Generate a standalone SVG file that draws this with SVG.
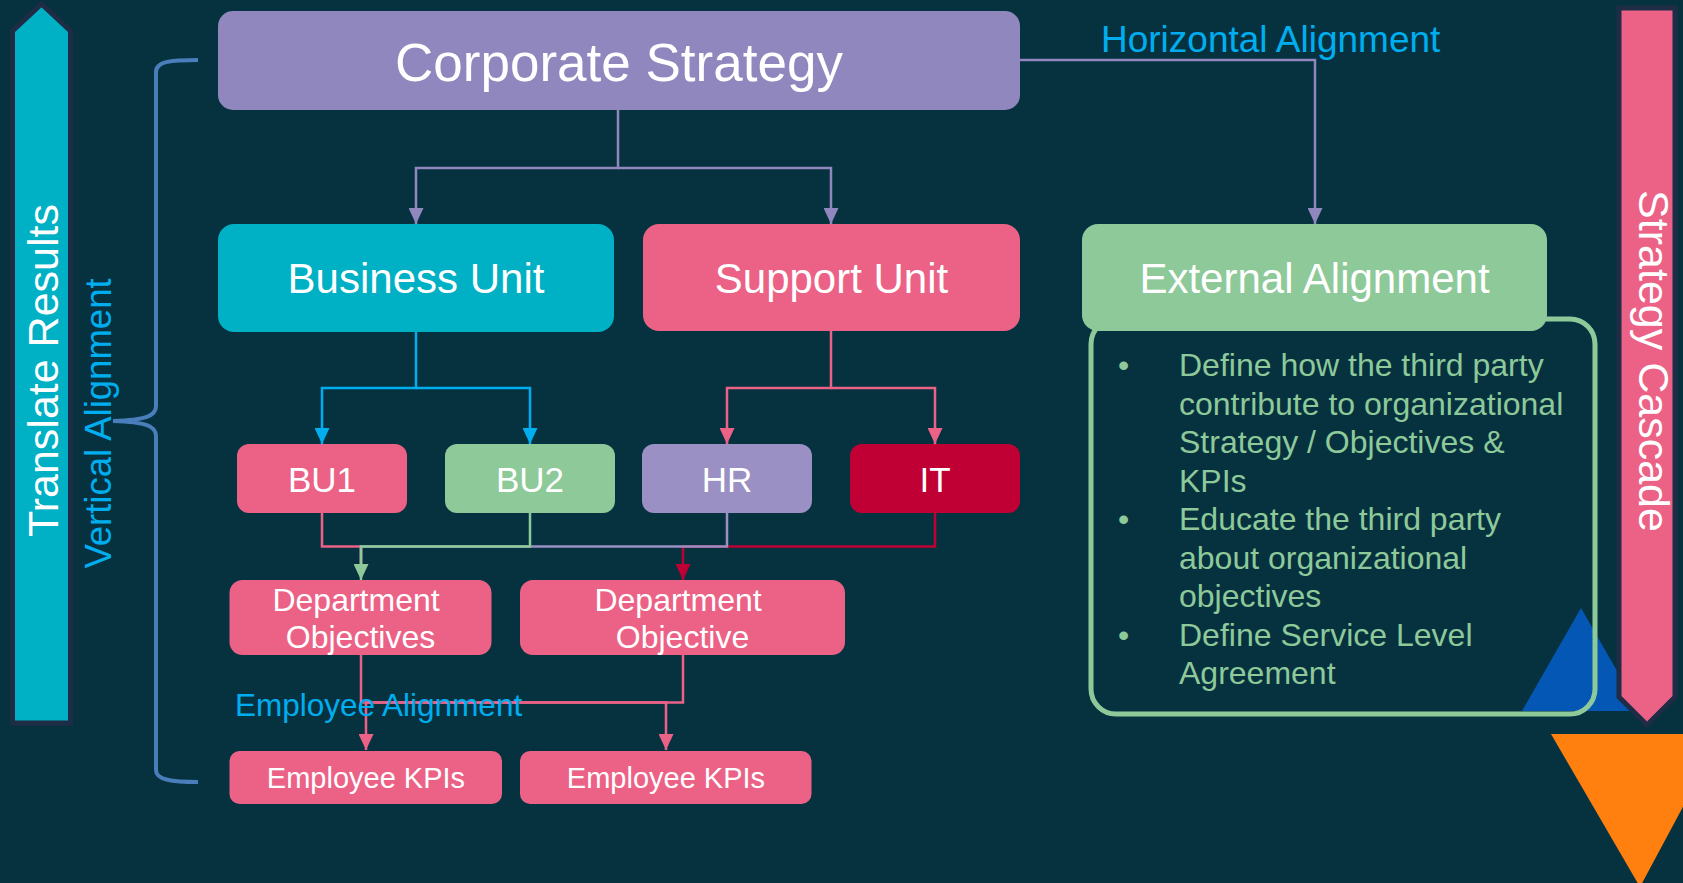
<svg xmlns="http://www.w3.org/2000/svg" width="1683" height="883" viewBox="0 0 1683 883">
  <style>
    text { font-family: "Liberation Sans", Arial, sans-serif; }
    .label { fill: #ffffff; text-anchor: middle; }
    .note { fill: #00AEEF; }
    .bullets { fill: #8EC999; font-size: 32px; }
    .conn { fill: none; stroke-width: 2.5; }
    .band { stroke: #1E2C46; stroke-width: 5; stroke-linejoin: miter; }
  </style>
  <defs>
    <marker id="ah-purple" viewBox="0 0 16 15" refX="16" refY="7.5" markerWidth="16" markerHeight="15" markerUnits="userSpaceOnUse" orient="auto">
      <path d="M0,0 L16,7.5 L0,15 z" fill="#8F87BD"/>
    </marker>
    <marker id="ah-blue" viewBox="0 0 16 15" refX="16" refY="7.5" markerWidth="16" markerHeight="15" markerUnits="userSpaceOnUse" orient="auto">
      <path d="M0,0 L16,7.5 L0,15 z" fill="#00AEEF"/>
    </marker>
    <marker id="ah-pink" viewBox="0 0 16 15" refX="16" refY="7.5" markerWidth="16" markerHeight="15" markerUnits="userSpaceOnUse" orient="auto">
      <path d="M0,0 L16,7.5 L0,15 z" fill="#EC6286"/>
    </marker>
    <marker id="ah-green" viewBox="0 0 16 15" refX="16" refY="7.5" markerWidth="16" markerHeight="15" markerUnits="userSpaceOnUse" orient="auto">
      <path d="M0,0 L16,7.5 L0,15 z" fill="#8EC999"/>
    </marker>
    <marker id="ah-crimson" viewBox="0 0 16 15" refX="16" refY="7.5" markerWidth="16" markerHeight="15" markerUnits="userSpaceOnUse" orient="auto">
      <path d="M0,0 L16,7.5 L0,15 z" fill="#C00034"/>
    </marker>
  </defs>

  <!-- backdrop -->
  <rect x="0" y="0" width="1683" height="883" fill="#063240"/>

  <!-- left band: results travel upward -->
  <g id="translate-results">
    <polygon class="band" points="41.5,4 70.5,31 70.5,723 12.5,723 12.5,31" fill="#00B0C4"/>
    <text class="label" font-size="43" transform="translate(57.5,370.5) rotate(-90)">Translate Results</text>
  </g>

  <!-- vertical alignment brace -->
  <g id="vertical-alignment">
    <path d="M198,60 C172,60 156,61 156,72 L156,406 C156,416 146,420 113,421 C146,422 156,426 156,436 L156,770 C156,780 172,782 198,782" fill="none" stroke="#4A7EBB" stroke-width="4"/>
    <text class="note" font-size="36.5" text-anchor="middle" transform="translate(111,423.5) rotate(-90)">Vertical Alignment</text>
  </g>

  <!-- accent shapes on the right edge -->
  <polygon id="accent-blue" points="1581,608 1522,711 1640,711" fill="#0557B5"/>

  <!-- external alignment detail panel -->
  <g id="external-detail">
    <rect x="1091" y="319" width="504" height="395" rx="25" fill="none" stroke="#8EC999" stroke-width="5"/>
    <text class="bullets">
      <tspan x="1118" y="376">•</tspan>
      <tspan x="1179" y="376">Define how the third party</tspan>
      <tspan x="1179" y="414.5">contribute to organizational</tspan>
      <tspan x="1179" y="453">Strategy / Objectives &amp;</tspan>
      <tspan x="1179" y="491.5">KPIs</tspan>
      <tspan x="1118" y="530">•</tspan>
      <tspan x="1179" y="530">Educate the third party</tspan>
      <tspan x="1179" y="568.5">about organizational</tspan>
      <tspan x="1179" y="607">objectives</tspan>
      <tspan x="1118" y="645.5">•</tspan>
      <tspan x="1179" y="645.5">Define Service Level</tspan>
      <tspan x="1179" y="684">Agreement</tspan>
    </text>
  </g>

  <!-- right band: strategy flows downward -->
  <g id="strategy-cascade">
    <polygon class="band" points="1619,8 1675,8 1675,697 1647,725 1619,697" fill="#EC6286"/>
    <text class="label" font-size="43" transform="translate(1639,361) rotate(90)">Strategy Cascade</text>
  </g>

  <polygon id="accent-orange" points="1551,734 1722,734 1640,887" fill="#FF7F0F"/>

  <!-- connectors -->
  <g id="connectors">
    <path class="conn" stroke="#8F87BD" d="M618,110 V168 H416 V224" marker-end="url(#ah-purple)"/>
    <path class="conn" stroke="#8F87BD" d="M618,168 H831 V224" marker-end="url(#ah-purple)"/>
    <path class="conn" stroke="#8F87BD" d="M1020,60 H1315 V224" marker-end="url(#ah-purple)"/>

    <path class="conn" stroke="#00AEEF" d="M416,332 V388 H322 V444" marker-end="url(#ah-blue)"/>
    <path class="conn" stroke="#00AEEF" d="M416,388 H530 V444" marker-end="url(#ah-blue)"/>

    <path class="conn" stroke="#EC6286" d="M831,331 V388 H727 V444" marker-end="url(#ah-pink)"/>
    <path class="conn" stroke="#EC6286" d="M831,388 H935 V444" marker-end="url(#ah-pink)"/>

    <path class="conn" stroke="#EC6286" d="M322,513 V546.5 H361 V570"/>
    <path class="conn" stroke="#C00034" d="M935,513 V546.5 H683 V580" marker-end="url(#ah-crimson)"/>
    <path class="conn" stroke="#9A90C3" d="M727,513 V546.5 H361 V570"/>
    <path class="conn" stroke="#8EC999" d="M530,513 V546.5 H361 V580" marker-end="url(#ah-green)"/>

    <path class="conn" stroke="#EC6286" d="M361,655 V702.5 H666 V750" marker-end="url(#ah-pink)"/>
    <path class="conn" stroke="#EC6286" d="M683,655 V702.5 H366 V750" marker-end="url(#ah-pink)"/>
  </g>

  <text id="horizontal-alignment" class="note" x="1101" y="52" font-size="37">Horizontal Alignment</text>
  <text id="employee-alignment" class="note" x="235" y="716" font-size="31.5">Employee Alignment</text>

  <!-- nodes -->
  <g id="corporate-strategy">
    <rect x="218" y="11" width="802" height="99" rx="15" fill="#8F87BD"/>
    <text class="label" x="619" y="81" font-size="53">Corporate Strategy</text>
  </g>
  <g id="business-unit">
    <rect x="218" y="224" width="396" height="108" rx="16" fill="#00B0C4"/>
    <text class="label" x="416" y="293" font-size="42">Business Unit</text>
  </g>
  <g id="support-unit">
    <rect x="643" y="224" width="377" height="107" rx="16" fill="#EC6286"/>
    <text class="label" x="831.5" y="293" font-size="42">Support Unit</text>
  </g>
  <g id="external-alignment">
    <rect x="1082" y="224" width="465" height="107" rx="16" fill="#8EC999"/>
    <text class="label" x="1314.5" y="293" font-size="42">External Alignment</text>
  </g>

  <g id="bu1">
    <rect x="237" y="444" width="170" height="69" rx="12" fill="#EC6286"/>
    <text class="label" x="322" y="491.5" font-size="35">BU1</text>
  </g>
  <g id="bu2">
    <rect x="445" y="444" width="170" height="69" rx="12" fill="#8EC999"/>
    <text class="label" x="530" y="491.5" font-size="35">BU2</text>
  </g>
  <g id="hr">
    <rect x="642" y="444" width="170" height="69" rx="12" fill="#9A90C3"/>
    <text class="label" x="727" y="491.5" font-size="35">HR</text>
  </g>
  <g id="it">
    <rect x="850" y="444" width="170" height="69" rx="12" fill="#C00034"/>
    <text class="label" x="935" y="491.5" font-size="35">IT</text>
  </g>

  <g id="department-objectives">
    <rect x="229.5" y="580" width="262" height="75" rx="13" fill="#EC6286"/>
    <text class="label" font-size="32">
      <tspan x="360.5" y="611">Department</tspan>
      <tspan x="360.5" y="648">Objectives</tspan>
    </text>
  </g>
  <g id="department-objective">
    <rect x="520" y="580" width="325" height="75" rx="13" fill="#EC6286"/>
    <text class="label" font-size="32">
      <tspan x="682.5" y="611">Department</tspan>
      <tspan x="682.5" y="648">Objective</tspan>
    </text>
  </g>

  <g id="employee-kpis-1">
    <rect x="229.5" y="751" width="272.5" height="53" rx="10" fill="#EC6286"/>
    <text class="label" x="366" y="788" font-size="29">Employee KPIs</text>
  </g>
  <g id="employee-kpis-2">
    <rect x="520" y="751" width="291.5" height="53" rx="10" fill="#EC6286"/>
    <text class="label" x="666" y="788" font-size="29">Employee KPIs</text>
  </g>
</svg>
